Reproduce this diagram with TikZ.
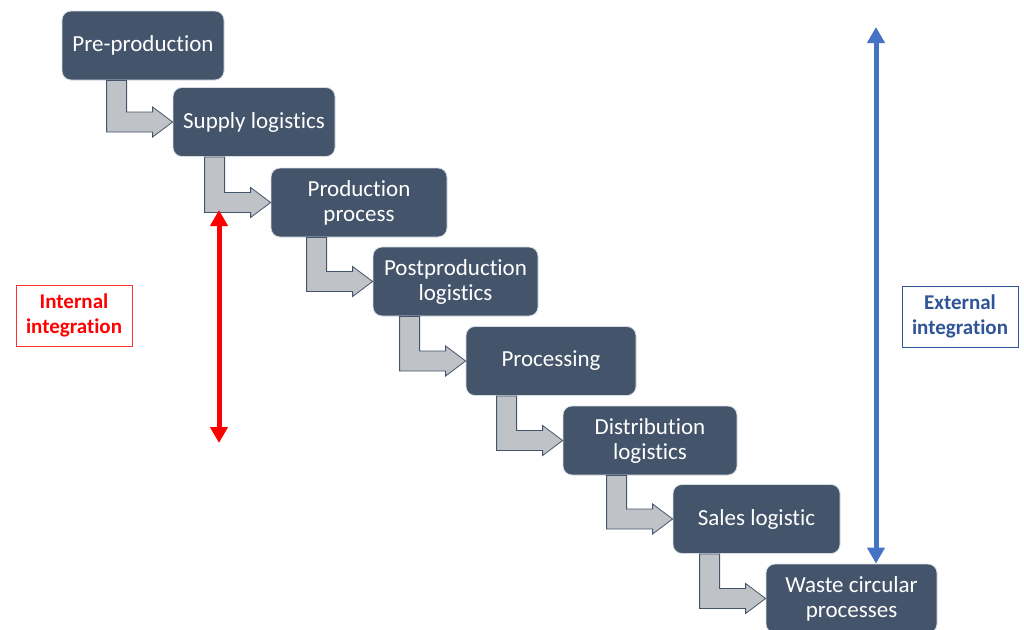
\documentclass[tikz,border=0pt]{standalone}
\usepackage{fontspec}
\setmainfont[RawFeature={-liga;-clig;-calt;-dlig}]{Carlito}
\usetikzlibrary{arrows.meta,calc}
\definecolor{slate}{HTML}{44546A}
\definecolor{slateedge}{HTML}{D6DCE4}
\definecolor{shaftgrey}{HTML}{BFC3C8}
\definecolor{extblue}{HTML}{2F5597}
\definecolor{arrowblue}{HTML}{4472C4}
\tikzset{
  stage/.style={rectangle, rounded corners=9pt, fill=slate, draw=slateedge, line width=0.8pt,
    minimum height=69pt, inner sep=2pt, text=white, align=center, font=\fontsize{23}{25}\selectfont},
  bentarrow/.style={fill=shaftgrey, draw=slate, line width=0.8pt, line join=miter},
  tag/.style={rectangle, line width=1pt, minimum width=116pt, minimum height=61pt,
    align=center, font=\bfseries\fontsize{21}{25}\selectfont},
  span/.style={line width=5pt, {Triangle[width=17pt,length=16pt]}-{Triangle[width=17pt,length=16pt]}}
}
\begin{document}
\begin{tikzpicture}[x=1pt,y=1pt]
            \useasboundingbox (0,0) rectangle (1024,-629);

            % Etapas de la cadena, en escalera
            \foreach \cx/\cy/\w/\n/\t in {143/45.5/162/pre/Pre-production, 254/122/162/sup/Supply logistics,
                359/202.5/176/prod/{Production\\process}, 455.5/281.5/165/post/{Postproduction\\logistics},
                551/361/170/proc/Processing, 650/440.5/174/dist/{Distribution\\logistics},
                756.5/519/167/sales/Sales logistic, 851.5/598.5/171/waste/{Waste circular\\processes}}
                \node[stage, minimum width=\w pt] (\n) at (\cx,-\cy) {\t};

            % Flechas en L entre etapas consecutivas
            \foreach \a/\b in {pre/sup, sup/prod, prod/post, post/proc, proc/dist, dist/sales, sales/waste}
                \draw[bentarrow] let \p1=(\b.west), \p2=(\a.south) in
                    (\x1-66pt,\y1-10pt) -- (\x1-66pt,\y2) -- (\x1-46pt,\y2) -- (\x1-46pt,\y1+10pt)
                    -- (\x1-20pt,\y1+10pt) -- (\x1-20pt,\y1+15pt) -- (\x1,\y1)
                    -- (\x1-20pt,\y1-15pt) -- (\x1-20pt,\y1-10pt) -- cycle;

            % Integracion interna y externa
            \node[tag, draw=red!80, text=red] (internal) at (74,-315.5) {Internal\\integration};
            \node[tag, draw=extblue, text=extblue] (external) at (960,-316.5) {External\\integration};

            \coordinate (intTop) at (219,-210);
            \coordinate (intBot) at (219,-443);
            \draw[span, red] (intTop) -- (intBot);

            \coordinate (extTop) at (876,-27);
            \draw[span, arrowblue] (extTop) -- (extTop |- waste.north);
        \end{tikzpicture}
\end{document}
